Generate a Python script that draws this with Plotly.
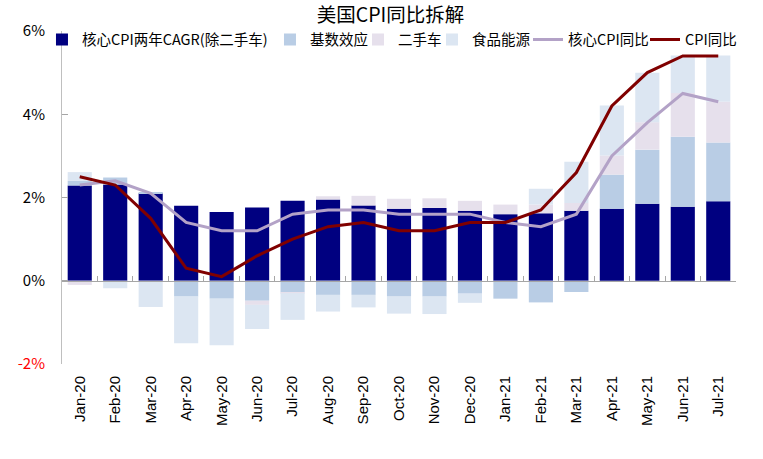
import plotly.graph_objects as go

# 月份
months = ['Jan-20', 'Feb-20', 'Mar-20', 'Apr-20', 'May-20', 'Jun-20', 'Jul-20',
          'Aug-20', 'Sep-20', 'Oct-20', 'Nov-20', 'Dec-20', 'Jan-21', 'Feb-21',
          'Mar-21', 'Apr-21', 'May-21', 'Jun-21', 'Jul-21']

# 拆解项 (%)
core_cagr = [2.29, 2.31, 2.10, 1.80, 1.65, 1.76, 1.92, 1.95, 1.81, 1.73, 1.75, 1.68,
             1.60, 1.62, 1.68, 1.73, 1.85, 1.78, 1.91]
base_effect = [0.11, 0.17, 0.03, -0.38, -0.43, -0.48, -0.28, -0.34, -0.34, -0.38, -0.38, -0.31,
               -0.43, -0.52, -0.27, 0.82, 1.30, 1.68, 1.41]
used_car = [-0.10, 0.0, 0.0, 0.0, 0.0, -0.10, -0.02, 0.08, 0.23, 0.24, 0.23, 0.24,
            0.23, 0.21, 0.19, 0.46, 0.66, 1.05, 0.98]
food_energy = [0.21, -0.18, -0.63, -1.12, -1.12, -0.58, -0.64, -0.40, -0.30, -0.41, -0.42, -0.22,
               0.0, 0.38, 0.99, 1.20, 1.19, 0.90, 1.11]

# 同比 (%)
core_cpi = [2.3, 2.4, 2.1, 1.4, 1.2, 1.2, 1.6, 1.7, 1.7, 1.6, 1.6, 1.6,
            1.4, 1.3, 1.6, 3.0, 3.8, 4.5, 4.3]
cpi = [2.5, 2.3, 1.5, 0.3, 0.1, 0.6, 1.0, 1.3, 1.4, 1.2, 1.2, 1.4,
       1.4, 1.7, 2.6, 4.2, 5.0, 5.4, 5.4]

y_ticks = [-2, 0, 2, 4, 6]
y_ticktext = ['<span style="color:#FF0000">-2%</span>', '0%', '2%', '4%', '6%']

cjk = 'Noto Sans CJK SC'

fig = go.Figure()

# 堆积柱 (legendwidth 只用来把图例排紧)
bars = [
    ('核心CPI两年CAGR(除二手车)', core_cagr, '#000080', 183),
    ('基数效应', base_effect, '#B9CDE5', 43),
    ('二手车', used_car, '#E6E0EC', 29),
    ('食品能源', food_energy, '#DCE6F2', 61),
]
for name, vals, color, lw in bars:
    fig.add_trace(go.Bar(x=months, y=vals, name=name, marker_color=color,
                         marker_line_width=0, legendwidth=lw))

# 折线 (单独一个图例)
fig.add_trace(go.Scatter(x=months, y=core_cpi, name='核心CPI同比', mode='lines',
                         line=dict(color='#B3A2C7', width=3), xaxis='x2',
                         legend='legend2', legendwidth=72))
fig.add_trace(go.Scatter(x=months, y=cpi, name='CPI同比', mode='lines',
                         line=dict(color='#800000', width=3), xaxis='x2',
                         legend='legend2', legendwidth=55))

legend_font = dict(family=cjk, size=14.5, color='#000000')

fig.update_layout(
    width=763, height=459,
    margin=dict(l=62, r=27, t=31, b=95, autoexpand=False),
    paper_bgcolor='white', plot_bgcolor='white',
    barmode='relative', bargap=0.32,
    title=dict(text='美国CPI同比拆解', x=0.5118, xanchor='center', y=0.9673, yanchor='middle',
               font=dict(family=cjk, size=19.5, color='#000000')),
    font=dict(family=cjk, color='#000000'),
    showlegend=True,
    legend=dict(orientation='h', x=0.7062, xanchor='right', y=1.0225, yanchor='top',
                traceorder='normal', bgcolor='rgba(0,0,0,0)', font=legend_font),
    legend2=dict(orientation='h', x=0.6914, xanchor='left', y=1.0225, yanchor='top',
                 traceorder='normal', bgcolor='rgba(0,0,0,0)', font=legend_font),
    xaxis=dict(type='category', categoryorder='array', categoryarray=months,
               range=[-0.5, len(months) - 0.5], tickangle=-90, showline=False,
               showgrid=False, zeroline=False, ticks='', ticklabelstandoff=8,
               tickfont=dict(family='Liberation Sans', size=15, color='#000000')),
    xaxis2=dict(type='category', categoryorder='array', categoryarray=months,
                range=[-0.5, len(months) - 0.5], overlaying='x', anchor='free',
                position=0.25, showline=True, linecolor='#A6A6A6', linewidth=1,
                ticks='inside', tickson='boundaries', ticklen=5, tickcolor='#A6A6A6',
                showticklabels=False, showgrid=False, zeroline=False),
    yaxis=dict(range=[-2, 6], tickvals=y_ticks, ticktext=y_ticktext,
               showline=True, linecolor='#BFBFBF', linewidth=1,
               ticks='inside', ticklen=6, tickcolor='#A6A6A6',
               showgrid=False, zeroline=False, ticklabelstandoff=13,
               tickfont=dict(family=cjk, size=15, color='#000000')),
)

# 去掉页面默认的 body 边距, 让图从左上角开始; 不显示工具栏
fig.write_html('out.html', config={'displayModeBar': False},
               post_script="document.body.style.margin='0';")
